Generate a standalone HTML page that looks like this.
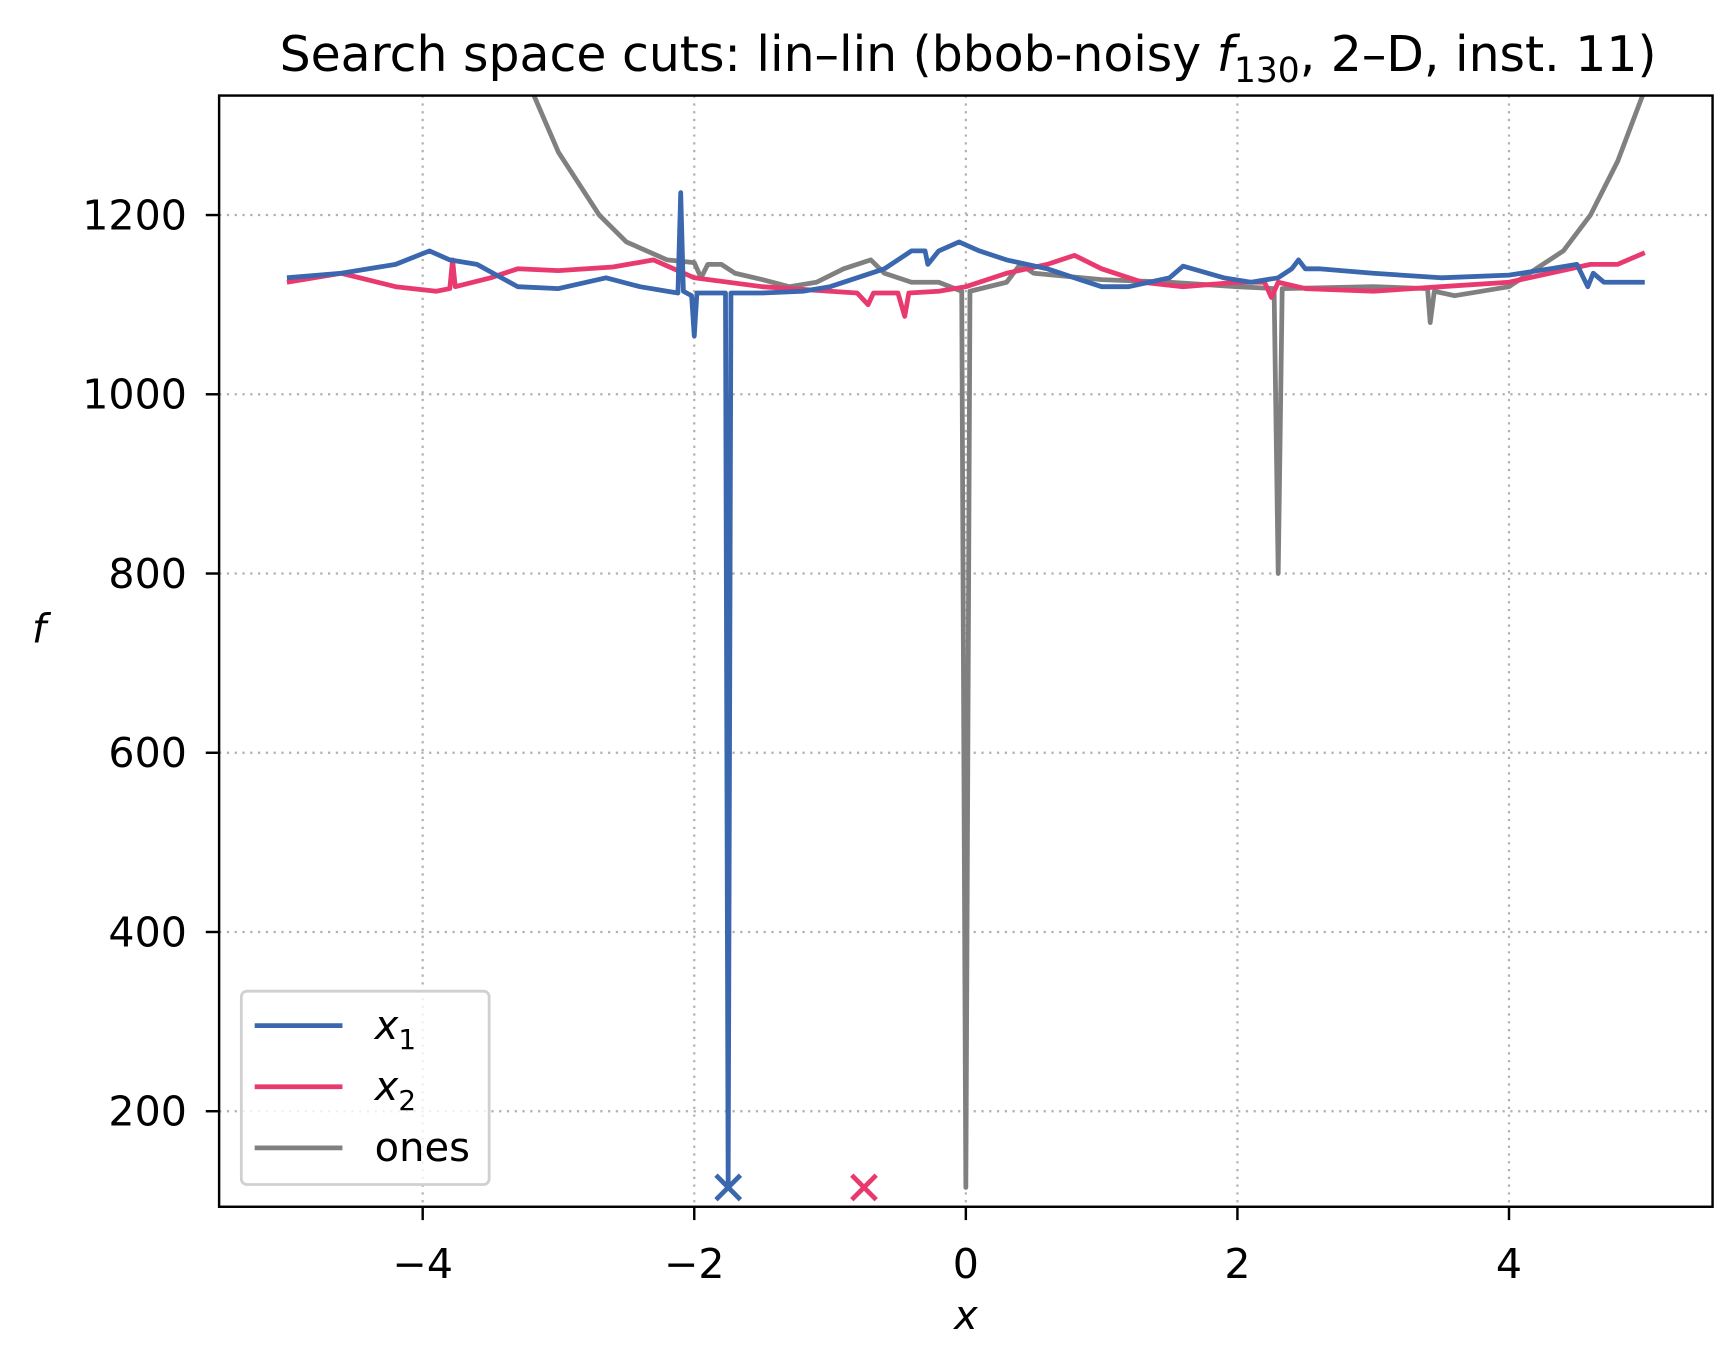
<!DOCTYPE html>
<html><head><meta charset="utf-8"><style>
html,body{margin:0;padding:0;background:#fff;}
svg{display:block;font-family:"DejaVu Sans","Liberation Sans",sans-serif;}
</style></head><body>
<svg id="chart" width="1735" height="1359" viewBox="0 0 1561 1223" xmlns="http://www.w3.org/2000/svg">
<rect width="1561" height="1223" fill="#fff"/>
<g id="grid"></g>
<g id="series" clip-path="url(#clip)"></g>
<defs><clipPath id="clip"><rect x="197" y="86" width="1344" height="1000"/></clipPath></defs>
<rect x="197" y="86" width="1344" height="1000" fill="none" stroke="#000" stroke-width="2.2"/>
<g id="ticks"></g>
<text x="871" y="64" font-size="44" text-anchor="middle">Search space cuts: lin–lin (bbob-noisy <tspan font-style="italic">f</tspan><tspan font-size="31" dy="10">130</tspan><tspan dy="-10">, 2–D, inst. 11)</tspan></text>
<text x="869" y="1196" font-size="36" font-style="italic" text-anchor="middle">x</text>
<text x="35" y="578" font-size="36" font-style="italic" text-anchor="middle">f</text>
<g>
<rect x="217" y="892" width="223" height="174" rx="5" fill="#fff" fill-opacity="0.8" stroke="#d0d0d0" stroke-width="2.5"/>
<line x1="229" y1="923" x2="308" y2="923" stroke="#3a67ae" stroke-width="4.3"/>
<text x="337" y="935" font-size="36" font-style="italic">x<tspan font-size="25" dy="9" font-style="normal">1</tspan></text>
<line x1="229" y1="978" x2="308" y2="978" stroke="#e83a6f" stroke-width="4.3"/>
<text x="337" y="990" font-size="36" font-style="italic">x<tspan font-size="25" dy="9" font-style="normal">2</tspan></text>
<line x1="229" y1="1033" x2="308" y2="1033" stroke="#808080" stroke-width="4.3"/>
<text x="337" y="1045" font-size="36">ones</text>
</g>
</svg>
<script>
const xTicks=[-4,-2,0,2,4];
const yTicks=[200,400,600,800,1000,1200];
const x1X=[-5,-4.6,-4.2,-3.95,-3.8,-3.6,-3.3,-3,-2.65,-2.4,-2.2,-2.12,-2.1,-2.08,-2.02,-2.0,-1.98,-1.9,-1.77,-1.75,-1.73,-1.5,-1.2,-1,-0.6,-0.4,-0.3,-0.28,-0.2,-0.05,0.1,0.3,0.6,0.8,1.0,1.2,1.5,1.6,1.9,2.1,2.3,2.4,2.45,2.5,2.6,3,3.5,4,4.3,4.5,4.58,4.62,4.7,5];
const x1Y=[1130,1135,1145,1160,1150,1145,1120,1118,1130,1120,1115,1113,1225,1115,1110,1065,1113,1113,1113,115,1113,1113,1115,1120,1140,1160,1160,1145,1160,1170,1160,1150,1140,1130,1120,1120,1130,1143,1130,1125,1130,1140,1150,1140,1140,1135,1130,1133,1140,1145,1120,1135,1125,1125];
const x2X=[-5,-4.6,-4.2,-3.9,-3.8,-3.78,-3.76,-3.5,-3.3,-3,-2.6,-2.3,-2,-1.5,-1,-0.8,-0.72,-0.68,-0.5,-0.45,-0.42,-0.2,0,0.3,0.6,0.8,1,1.3,1.6,2,2.2,2.25,2.3,2.5,3,3.5,4,4.3,4.6,4.8,5];
const x2Y=[1125,1135,1120,1115,1118,1150,1120,1130,1140,1138,1142,1150,1130,1120,1115,1113,1100,1113,1113,1087,1113,1115,1120,1135,1145,1155,1140,1125,1120,1125,1125,1108,1125,1118,1115,1120,1125,1135,1145,1145,1158];
const onesX=[-3.3,-3.2,-3,-2.7,-2.5,-2.2,-2,-1.95,-1.9,-1.8,-1.7,-1.5,-1.3,-1.1,-0.9,-0.7,-0.6,-0.4,-0.2,-0.03,0,0.03,0.3,0.4,0.5,1,1.5,2,2.27,2.3,2.33,3,3.4,3.42,3.45,3.6,4,4.2,4.4,4.6,4.8,5];
const onesY=[1400,1340,1270,1200,1170,1150,1147,1130,1145,1145,1135,1128,1120,1125,1140,1150,1135,1125,1125,1115,115,1115,1125,1145,1135,1128,1125,1120,1118,800,1118,1120,1118,1080,1115,1110,1120,1140,1160,1200,1260,1340];
const markX=[-1.75,-0.75];
const markY=[115,115];
const NS="http://www.w3.org/2000/svg";
const sx=v=>869+122.2*v;
const sy=v=>1086-(v-93.4)*0.8065;
function mk(tag,attrs,parent){const e=document.createElementNS(NS,tag);for(const k in attrs)e.setAttribute(k,attrs[k]);parent.appendChild(e);return e;}
const grid=document.getElementById('grid'),ticks=document.getElementById('ticks'),series=document.getElementById('series');
xTicks.forEach(t=>{
 const g=mk('line',{x1:sx(t),x2:sx(t),y1:86,y2:1086,stroke:'#b0b0b0','stroke-width':2,'stroke-dasharray':'2,5'},grid);
 
 
 mk('line',{x1:sx(t),x2:sx(t),y1:1086,y2:1098,stroke:'#000','stroke-width':2.2},ticks);
 const tx=mk('text',{x:sx(t),y:1150,'font-size':37,'text-anchor':'middle'},ticks);
 tx.textContent=t<0?'\u2212'+Math.abs(t):String(t);
 
 
});
yTicks.forEach(t=>{
 const g=mk('line',{x1:197,x2:1541,y1:sy(t),y2:sy(t),stroke:'#b0b0b0','stroke-width':2,'stroke-dasharray':'2,5'},grid);
 
 
 mk('line',{x1:185,x2:197,y1:sy(t),y2:sy(t),stroke:'#000','stroke-width':2.2},ticks);
 const tx=mk('text',{x:168,y:sy(t)+13,'font-size':37,'text-anchor':'end'},ticks);
 tx.textContent=String(t);
 
 
});
function line(xs,ys,color,name){
 const d=xs.map((x,i)=>(i?'L':'M')+sx(x).toFixed(1)+' '+sy(ys[i]).toFixed(1)).join(' ');
 const p=mk('path',{d:d,fill:'none',stroke:color,'stroke-width':4.3,'stroke-linejoin':'round'},series);
 
 
}
line(onesX,onesY,'#808080','series-ones');
line(x2X,x2Y,'#e83a6f','series-x2');
line(x1X,x1Y,'#3a67ae','series-x1');
const mcol=['#3a67ae','#e83a6f'];
markX.forEach((x,i)=>{
 const cx=sx(x),cy=sy(markY[i]),r=11;
 const p=mk('path',{d:`M${cx-r} ${cy-r}L${cx+r} ${cy+r}M${cx-r} ${cy+r}L${cx+r} ${cy-r}`,stroke:mcol[i],'stroke-width':4.3},series);
 
 
});
</script>
</body></html>
